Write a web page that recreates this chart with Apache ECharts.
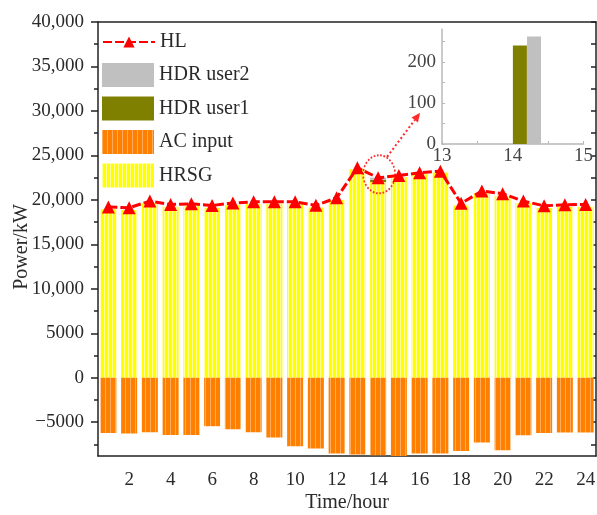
<!DOCTYPE html>
<html>
<head>
<meta charset="utf-8">
<script src="https://cdn.jsdelivr.net/npm/echarts@6/dist/echarts.min.js"></script>
<style>
  html, body { margin: 0; padding: 0; background: #fff; }
  #chart { width: 597px; height: 515px; }
</style>
</head>
<body>
<div id="chart"></div>
<script>
// Hourly heat balance: HRSG output, absorption chiller input, HDR users and heat load
const hours = ['1','2','3','4','5','6','7','8','9','10','11','12',
               '13','14','15','16','17','18','19','20','21','22','23','24'];
const hrsg = [18950, 18870, 19620, 19230, 19310, 19120, 19400, 19530, 19530, 19530, 19140, 19980,
              23450, 22000, 22580, 22900, 23080, 19360, 20740, 20450, 19610, 19080, 19200, 19230];
const hdrUser1 = [0,0,0,0,0,0,0,0,0,0,0,0, 0,240,0,0,0,0,0,0,0,0,0,0];
const hdrUser2 = [0,0,0,0,0,0,0,0,0,0,0,0, 0,262,0,0,0,0,0,0,0,0,0,0];
const acInput = [-6200, -6270, -6130, -6430, -6430, -5450, -5790, -6130, -6720, -7700, -7960, -8520,
                 -8630, -8710, -8790, -8520, -8520, -8230, -7290, -8150, -6460, -6200, -6160, -6160];
const heatLoad = [19200, 19110, 19860, 19480, 19560, 19370, 19650, 19780, 19780, 19780, 19390, 20230,
                  23600, 22480, 22740, 23040, 23230, 19610, 20990, 20700, 19860, 19330, 19450, 19480];
const yMajorTicks = [-5000, 0, 5000, 10000, 15000, 20000, 25000, 30000, 35000, 40000];
const yMinorTicks = [-7500, -2500, 2500, 7500, 12500, 17500, 22500, 27500, 32500, 37500];
const insetYTicks = [0, 100, 200];
const zoomHour = 14;   // hour shown in the inset

const SERIF = '"Liberation Serif", "Times New Roman", serif';
const AXIS = '#222';
const TXT = '#2a2a2a';

// vertical-stripe fills for the stacked bars
function stripes(base, line, period) {
  const c = document.createElement('canvas');
  c.width = period; c.height = 8;
  const ctx = c.getContext('2d');
  ctx.fillStyle = base; ctx.fillRect(0, 0, period, 8);
  ctx.fillStyle = line; ctx.fillRect(0, 0, 1, 8);
  return { image: c, repeat: 'repeat' };
}
const yellowFill = stripes('#ffff00', '#ffff9a', 4);
const orangeFill = stripes('#ff8000', '#ffad5c', 5);

const zi = hours.indexOf(String(zoomHour));
const allY = yMajorTicks.concat(yMinorTicks).sort((a, b) => a - b);
const fmtY = v => v < 0 ? '\u2212' + Math.abs(v) : (v >= 10000 ? v.toLocaleString('en-US') : String(v));

const chart = echarts.init(document.getElementById('chart'), null, { renderer: 'canvas' });

const option = {
  animation: false,
  backgroundColor: '#fff',
  textStyle: { fontFamily: SERIF },
  grid: [
    { left: 98, right: 1, top: 22, bottom: 59, outerBoundsMode: 'none' },
    { left: 442, top: 29, width: 141.6, height: 115, outerBoundsMode: 'none' }
  ],
  legend: [
    {
      data: ['HL'], orient: 'vertical', left: 102, top: 32, padding: 0,
      itemWidth: 52, itemHeight: 14,
      textStyle: { fontFamily: SERIF, fontSize: 20, color: TXT }
    },
    {
      data: ['HDR user2', 'HDR user1', 'AC input', 'HRSG'], orient: 'vertical',
      left: 102, top: 63, padding: 0, itemGap: 9.5,
      itemWidth: 52, itemHeight: 24, icon: 'rect',
      textStyle: { fontFamily: SERIF, fontSize: 20, color: TXT }
    }
  ],
  xAxis: [
    { // bottom axis, labels and long ticks on even hours
      gridIndex: 0, type: 'category', data: hours, position: 'bottom',
      name: 'Time/hour', nameLocation: 'middle', nameGap: 37, nameMoveOverlap: false,
      nameTextStyle: { fontFamily: SERIF, fontSize: 20, color: TXT },
      axisLine: { onZero: false, lineStyle: { color: AXIS, width: 1.5 } },
      axisTick: { alignWithLabel: true, interval: i => i % 2 === 1, length: 8, lineStyle: { color: AXIS, width: 1.5 } },
      axisLabel: { interval: i => i % 2 === 1, margin: 15, fontFamily: SERIF, fontSize: 19, color: TXT },
      splitLine: { show: false }
    },
    { // bottom short ticks on every hour
      gridIndex: 0, type: 'category', data: hours, position: 'bottom',
      axisLine: { show: false, onZero: false },
      axisTick: { alignWithLabel: true, interval: 0, length: 4.5, lineStyle: { color: AXIS, width: 1.5 } },
      axisLabel: { show: false }, splitLine: { show: false }
    },
    { // top frame, short inward ticks
      gridIndex: 0, type: 'category', data: hours, position: 'top',
      axisLine: { onZero: false, lineStyle: { color: AXIS, width: 1.5 } },
      axisTick: { alignWithLabel: true, interval: 0, inside: true, length: 4.5, lineStyle: { color: AXIS, width: 1.5 } },
      axisLabel: { show: false }, splitLine: { show: false }
    },
    { // top frame, long inward ticks on even hours
      gridIndex: 0, type: 'category', data: hours, position: 'top',
      axisLine: { show: false, onZero: false },
      axisTick: { alignWithLabel: true, interval: i => i % 2 === 1, inside: true, length: 8, lineStyle: { color: AXIS, width: 1.5 } },
      axisLabel: { show: false }, splitLine: { show: false }
    },
    { // inset hour axis
      gridIndex: 1, type: 'value', min: 13, max: 15, interval: 1, position: 'bottom',
      axisLine: { onZero: false, lineStyle: { color: '#b8b8b8', width: 1.5 } },
      axisTick: { show: true, inside: true, length: 3, lineStyle: { color: '#b8b8b8' } },
      minorTick: { show: true, splitNumber: 2, length: 3, lineStyle: { color: '#b8b8b8' } },
      axisLabel: { margin: 3, fontFamily: SERIF, fontSize: 19, color: '#444', showMinLabel: true, showMaxLabel: true },
      splitLine: { show: false }
    }
  ],
  yAxis: [
    { // left axis with labels and major ticks
      gridIndex: 0, type: 'value', min: -8800, max: 40000, position: 'left',
      name: 'Power/kW', nameLocation: 'middle', nameGap: 66, nameMoveOverlap: false,
      nameTextStyle: { fontFamily: SERIF, fontSize: 20, color: TXT, padding: [0, 16, 0, 0] },
      axisLine: { show: true, onZero: false, lineStyle: { color: AXIS, width: 1.5 } },
      axisTick: { show: true, customValues: yMajorTicks, length: 7, lineStyle: { color: AXIS, width: 1.5 } },
      axisLabel: { customValues: yMajorTicks, formatter: fmtY, margin: 14, fontFamily: SERIF, fontSize: 19, color: TXT },
      splitLine: { show: false }
    },
    { // left minor ticks
      gridIndex: 0, type: 'value', min: -8800, max: 40000, position: 'left',
      axisLine: { show: false, onZero: false },
      axisTick: { show: true, customValues: yMinorTicks, length: 4, lineStyle: { color: AXIS, width: 1.5 } },
      axisLabel: { show: false }, splitLine: { show: false }
    },
    { // right frame with inward ticks
      gridIndex: 0, type: 'value', min: -8800, max: 40000, position: 'right',
      axisLine: { show: true, onZero: false, lineStyle: { color: AXIS, width: 1.5 } },
      axisTick: { show: true, inside: true, customValues: allY, length: 5, lineStyle: { color: AXIS, width: 1.5 } },
      axisLabel: { show: false }, splitLine: { show: false }
    },
    { // inset power axis
      gridIndex: 1, type: 'value', min: 0, max: 280, position: 'left',
      axisLine: { show: true, onZero: false, lineStyle: { color: '#b8b8b8', width: 1.5 } },
      axisTick: { show: true, inside: true, customValues: [0, 50, 100, 150, 200, 250], length: 3, lineStyle: { color: '#b8b8b8' } },
      axisLabel: { customValues: insetYTicks, margin: 6, fontFamily: SERIF, fontSize: 19, color: '#444' },
      splitLine: { show: false }
    }
  ],
  series: [
    {
      name: 'HRSG', type: 'bar', stack: 'total', xAxisIndex: 0, yAxisIndex: 0,
      barWidth: 16, data: hrsg, itemStyle: { color: yellowFill }
    },
    {
      name: 'HDR user1', type: 'bar', stack: 'total', xAxisIndex: 0, yAxisIndex: 0,
      barWidth: 16, data: hdrUser1, itemStyle: { color: '#808000' }
    },
    {
      name: 'HDR user2', type: 'bar', stack: 'total', xAxisIndex: 0, yAxisIndex: 0,
      barWidth: 16, data: hdrUser2, itemStyle: { color: '#c0c0c0' }
    },
    {
      name: 'AC input', type: 'bar', stack: 'total', xAxisIndex: 0, yAxisIndex: 0,
      barWidth: 16, data: acInput, itemStyle: { color: orangeFill }
    },
    {
      name: 'HL', type: 'line', xAxisIndex: 0, yAxisIndex: 0, z: 5,
      data: heatLoad, symbol: 'triangle', symbolSize: 13, showSymbol: true,
      lineStyle: { color: '#ff0000', width: 3, type: [9, 3] },
      itemStyle: { color: '#ff0000' },
      markPoint: {
        silent: true,
        symbol: 'circle', symbolSize: [32, 38], symbolOffset: [1, -3.5],
        itemStyle: { color: 'rgba(0,0,0,0)', borderColor: '#ff2a2a', borderWidth: 1.8, borderType: 'dotted' },
        label: { show: false },
        data: [{ coord: [hours[zi], heatLoad[zi]] }]
      }
    },
    // inset: the two HDR users at the zoomed hour
    {
      name: 'HDR user1', type: 'bar', xAxisIndex: 4, yAxisIndex: 3, barWidth: 14, barGap: '-100%',
      data: [[zoomHour + 0.1, hdrUser1[zi]]], itemStyle: { color: '#808000' }
    },
    {
      name: 'HDR user2', type: 'bar', xAxisIndex: 4, yAxisIndex: 3, barWidth: 14, barGap: '-100%',
      data: [[zoomHour + 0.3, hdrUser2[zi]]], itemStyle: { color: '#c0c0c0' }
    }
  ]
};

chart.setOption(option);

// dotted arrow from the highlighted point towards the inset
const p = chart.convertToPixel({ xAxisIndex: 0, yAxisIndex: 0 }, [zi, heatLoad[zi]]);
const x1 = p[0] + 9, y1 = p[1] - 21;
const x2 = p[0] + 42, y2 = p[1] - 65;
const dx = x2 - x1, dy = y2 - y1, len = Math.hypot(dx, dy);
const ux = dx / len, uy = dy / len;
const head = 9, half = 4;
const bx = x2 - ux * head, by = y2 - uy * head;
chart.setOption({
  graphic: [
    {
      type: 'line', silent: true, z: 10,
      shape: { x1: x1, y1: y1, x2: bx, y2: by },
      style: { stroke: '#ff2a2a', lineWidth: 2, lineDash: [2, 2.5] }
    },
    {
      type: 'polygon', silent: true, z: 10,
      shape: { points: [[x2, y2], [bx - uy * half, by + ux * half], [bx + uy * half, by - ux * half]] },
      style: { fill: '#ff2a2a' }
    }
  ]
});
</script>
</body>
</html>
